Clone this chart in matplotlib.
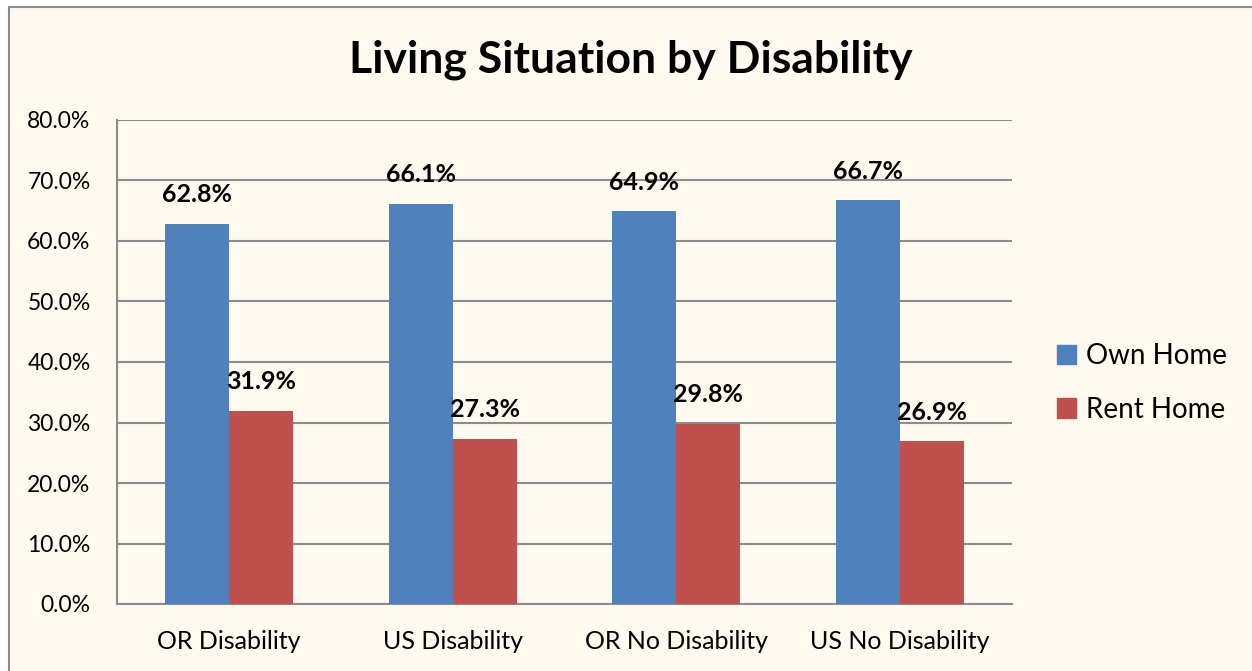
import matplotlib
matplotlib.use("Agg")
import matplotlib.pyplot as plt
import numpy as np
from matplotlib.patches import Rectangle, Patch

categories = ["OR Disability", "US Disability", "OR No Disability", "US No Disability"]
own_home = [62.8, 66.1, 64.9, 66.7]
rent_home = [31.9, 27.3, 29.8, 26.9]
series_names = ["Own Home", "Rent Home"]
yticks = [0, 10, 20, 30, 40, 50, 60, 70, 80]

plt.rcParams['font.family'] = ['Lato', 'DejaVu Sans']

W, H = 1252, 671
fig = plt.figure(figsize=(W / 100, H / 100), dpi=100, facecolor="white")
cream = "#FFFAF0"
fig.patches.append(Rectangle((9 / W, -0.05), 1.2, (H - 7) / H + 0.05,
                             transform=fig.transFigure, facecolor=cream,
                             edgecolor="#8C8C8C", linewidth=1.5, zorder=-10))

ax = fig.add_axes([117 / W, 67 / H, (1012 - 117) / W, (604 - 120) / H])
ax.set_facecolor("none")

x = np.arange(len(categories))
bw = 0.286
blue = "#4F81BD"
red = "#C0504D"
b1 = ax.bar(x - bw / 2, own_home, bw, color=blue, zorder=3)
b2 = ax.bar(x + bw / 2, rent_home, bw, color=red, zorder=3)

for rects, vals in ((b1, own_home), (b2, rent_home)):
    for r, v in zip(rects, vals):
        ax.annotate(f"{v:.1f}%", (r.get_x() + r.get_width() / 2, v),
                    xytext=(0, 21), textcoords="offset points",
                    ha="center", va="center", fontsize=18, fontweight="bold")

ax.set_xlim(-0.5, len(categories) - 0.5)
ax.set_ylim(0, 80)
ax.set_yticks(yticks)
ax.set_yticklabels([f"{t:.1f}%" for t in yticks])
ax.set_xticks(x)
ax.set_xticklabels(categories)
ax.tick_params(axis="y", length=0, pad=19, labelsize=16.5)
ax.tick_params(axis="x", length=0, pad=19, labelsize=18)
ax.grid(axis="y", color="#8C8C8C", linewidth=1.5, zorder=0)
ax.set_axisbelow(True)
for s in ("top", "right"):
    ax.spines[s].set_visible(False)
for s in ("left", "bottom"):
    ax.spines[s].set_color("#8C8C8C")
    ax.spines[s].set_linewidth(1.5)

fig.text(631 / W, 1 - 60 / H, "Living Situation by Disability",
         ha="center", va="center", fontsize=32, fontweight="bold")

handles = [Patch(color=blue), Patch(color=red)]
fig.legend(handles, series_names, loc="center left",
           bbox_to_anchor=(1032 / W, 1 - 383 / H), frameon=False,
           fontsize=20, handlelength=0.7, handleheight=0.7,
           handletextpad=0.35, labelspacing=1.0)

fig.savefig("out.png", dpi=100, facecolor="white")
